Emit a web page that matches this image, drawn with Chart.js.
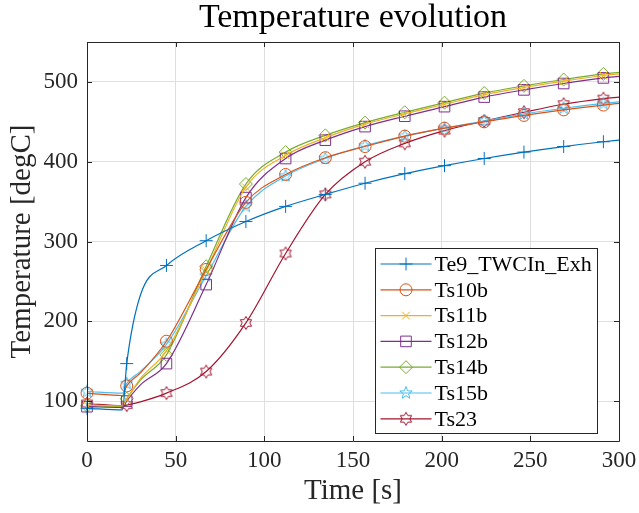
<!DOCTYPE html>
<html>
<head>
<meta charset="utf-8">
<script src="https://cdn.jsdelivr.net/npm/chart.js@4/dist/chart.umd.min.js"></script>
<style>
  html, body { margin: 0; padding: 0; background: #fff; }
  #wrap { width: 639px; height: 513px; }
</style>
</head>
<body>
<div id="wrap"><canvas id="tempChart" width="639" height="513"></canvas></div>
<script>
// sample times [s]; markers sit on the multiples of 22.4 s
const timeS = [0, 20, 22.4, 30, 44.8, 67.2, 89.6, 112, 134.4, 156.8, 179.2, 201.6, 224, 246.4, 268.8, 291.2, 300];
const markerIdx = [0, 2, 4, 5, 6, 7, 8, 9, 10, 11, 12, 13, 14, 15];

// temperatures [degC]
const te9   = [91, 89, 147, 232, 270, 301, 325, 344, 359, 373, 385, 395, 404, 412, 419, 425, 427];
const ts10b = [110, 107, 119, 135, 175, 265, 349, 384, 405, 419, 432, 442, 450, 458, 465, 471, 473];
const ts11b = [95, 94, 102, 128, 163, 264, 368, 408, 430, 447, 460, 472, 484, 493, 501, 508, 510];
const ts12b = [93, 92, 100, 120, 147, 246, 355, 404, 427, 444, 457, 469, 481, 490, 498, 505, 507];
const ts14b = [94, 93, 103, 126, 158, 269, 372, 412, 433, 449, 462, 474, 486, 495, 503, 510, 512];
const ts15b = [112, 110, 122, 137, 171, 257, 344, 382, 404, 420, 432, 442, 451, 460, 467, 473, 475];
const ts23  = [97, 94, 95, 99, 110, 137, 198, 285, 359, 400, 423, 439, 451, 462, 472, 479, 481];

const seriesNames = ['Te9_TWCIn_Exh', 'Ts10b', 'Ts11b', 'Ts12b', 'Ts14b', 'Ts15b', 'Ts23'];
const seriesValues = [te9, ts10b, ts11b, ts12b, ts14b, ts15b, ts23];
const seriesColors = ['#0072BD', '#D95319', '#EDB120', '#7E2F8E', '#77AC30', '#4DBEEE', '#A2142F'];

const yTicks = [100, 200, 300, 400, 500];
const titleText = 'Temperature evolution';
const FONT = "'Liberation Serif', 'Times New Roman', serif";

// star markers (pentagram / hexagram) drawn on small canvases
function starMarker(color, points, rOut, rIn) {
    const size = 16;
    const c = document.createElement('canvas');
    c.width = size; c.height = size;
    const g = c.getContext('2d');
    g.strokeStyle = color;
    g.lineWidth = 1;
    g.beginPath();
    for (let i = 0; i < points * 2; i++) {
        const r = i % 2 === 0 ? rOut : rIn;
        const a = -Math.PI / 2 + i * Math.PI / points;
        const px = size / 2 + r * Math.cos(a);
        const py = size / 2 + r * Math.sin(a);
        if (i === 0) g.moveTo(px, py); else g.lineTo(px, py);
    }
    g.closePath();
    g.stroke();
    return c;
}

const seriesStyles = [
    'cross',
    'circle',
    'crossRot',
    'rect',
    'rectRot',
    starMarker('#4DBEEE', 5, 6.5, 2.7),
    starMarker('#A2142F', 6, 6.5, 3.8)
];
const seriesRadius = [6.5, 6, 5.5, 7.5, 6.5, 6, 6];

const datasets = seriesNames.map((name, k) => ({
    label: name,
    data: timeS.map((t, i) => ({ x: t, y: seriesValues[k][i] })),
    borderColor: seriesColors[k],
    backgroundColor: 'transparent',
    borderWidth: 1.2,
    pointStyle: seriesStyles[k],
    pointBorderColor: seriesColors[k],
    pointBackgroundColor: 'transparent',
    pointBorderWidth: 1,
    pointRadius: (ctx) => markerIdx.includes(ctx.dataIndex) ? seriesRadius[k] : 0,
    pointHoverRadius: 0,
    cubicInterpolationMode: 'monotone',
    clip: false
}));

// title over the axes, box, inner ticks and the legend inside the axes
const matlabAxes = {
    id: 'matlabAxes',
    afterDraw(chart) {
        const ctx = chart.ctx;
        const a = chart.chartArea;
        const xs = chart.scales.x, ys = chart.scales.y;
        ctx.save();

        ctx.fillStyle = '#000000';
        ctx.font = '34px ' + FONT;
        ctx.textAlign = 'center';
        ctx.textBaseline = 'middle';
        ctx.fillText(titleText, (a.left + a.right) / 2, 18);

        ctx.strokeStyle = '#262626';
        ctx.lineWidth = 1;
        ctx.beginPath();
        ctx.rect(Math.round(a.left) + 0.5, Math.round(a.top) + 0.5,
                 Math.round(a.right - a.left), Math.round(a.bottom - a.top));
        ctx.stroke();
        const tl = 5;
        ctx.beginPath();
        xs.ticks.forEach(t => {
            const px = Math.round(xs.getPixelForValue(t.value)) + 0.5;
            ctx.moveTo(px, a.bottom); ctx.lineTo(px, a.bottom - tl);
            ctx.moveTo(px, a.top); ctx.lineTo(px, a.top + tl);
        });
        ys.ticks.forEach(t => {
            const py = Math.round(ys.getPixelForValue(t.value)) + 0.5;
            ctx.moveTo(a.left, py); ctx.lineTo(a.left + tl, py);
            ctx.moveTo(a.right, py); ctx.lineTo(a.right - tl, py);
        });
        ctx.stroke();

        // legend
        const boxW = 222, boxH = 185;
        const bx = Math.round(a.right - 22 - boxW) + 0.5;
        const by = Math.round(a.bottom - 8 - boxH) + 0.5;
        ctx.fillStyle = '#ffffff';
        ctx.fillRect(bx, by, boxW, boxH);
        ctx.strokeStyle = '#262626';
        ctx.strokeRect(bx, by, boxW, boxH);
        ctx.font = '22px ' + FONT;
        ctx.textBaseline = 'middle';
        ctx.textAlign = 'left';
        chart.data.datasets.forEach((ds, k) => {
            const ry = by + 15.5 + k * 25.8;
            ctx.strokeStyle = seriesColors[k];
            ctx.lineWidth = 1.2;
            ctx.beginPath();
            ctx.moveTo(bx + 5, ry); ctx.lineTo(bx + 56, ry);
            ctx.stroke();
            ctx.lineWidth = 1;
            ctx.strokeStyle = seriesColors[k];
            ctx.fillStyle = 'transparent';
            Chart.helpers.drawPoint(ctx, {
                pointStyle: seriesStyles[k], radius: seriesRadius[k], rotation: 0, borderWidth: 1
            }, bx + 30.5, ry);
            ctx.fillStyle = '#000000';
            ctx.fillText(ds.label, bx + 59, ry + 1);
        });
        ctx.restore();
    }
};

new Chart(document.getElementById('tempChart').getContext('2d'), {
    type: 'line',
    data: { datasets: datasets },
    options: {
        responsive: false,
        animation: false,
        events: [],
        layout: { padding: { left: 0, right: 20, top: 42, bottom: 0 } },
        plugins: {
            legend: { display: false },
            tooltip: { enabled: false },
            title: { display: false }
        },
        scales: {
            x: {
                type: 'linear',
                min: 0,
                max: 300,
                ticks: { stepSize: 50, color: '#262626', padding: 6, maxRotation: 0,
                         font: { family: FONT, size: 23 } },
                grid: { color: '#dfdfdf', drawTicks: false },
                border: { display: false },
                title: {
                    display: true,
                    text: 'Time [s]',
                    color: '#262626',
                    font: { family: FONT, size: 29 },
                    padding: { top: 0, bottom: 4 }
                },
                afterFit: (scale) => {
                    scale.height = 72;
                    scale.paddingLeft = 0;
                    scale.paddingRight = 0;
                }
            },
            y: {
                type: 'linear',
                min: 50,
                max: 550,
                afterBuildTicks: (scale) => { scale.ticks = yTicks.map(v => ({ value: v })); },
                ticks: { color: '#262626', padding: 9, font: { family: FONT, size: 23 } },
                grid: { color: '#dfdfdf', drawTicks: false },
                border: { display: false },
                title: {
                    display: true,
                    text: 'Temperature [degC]',
                    color: '#262626',
                    font: { family: FONT, size: 29 },
                    padding: { top: 5, bottom: 0 }
                },
                afterFit: (scale) => {
                    scale.width = 87;
                    scale.paddingTop = 0;
                    scale.paddingBottom = 0;
                }
            }
        }
    },
    plugins: [matlabAxes]
});
</script>
</body>
</html>
